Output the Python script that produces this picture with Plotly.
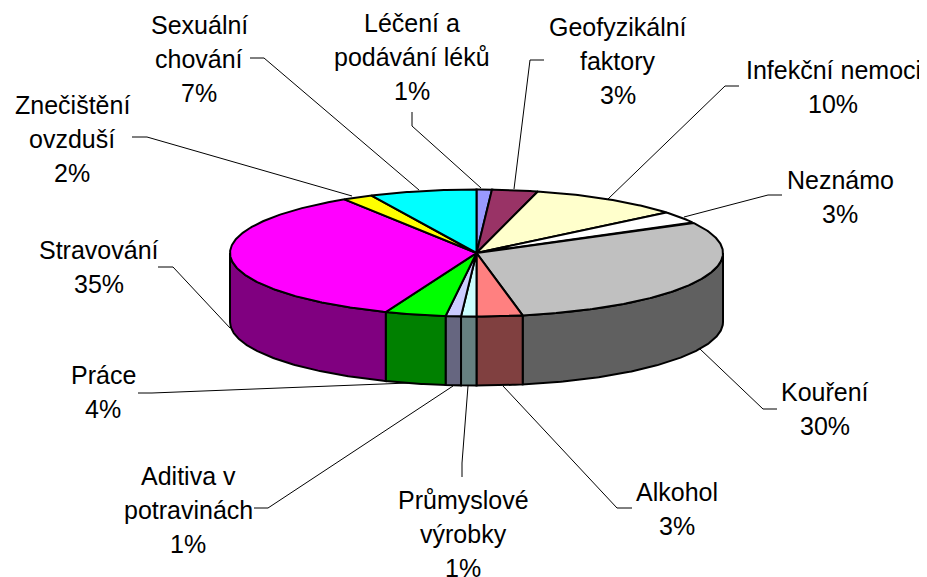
import math
import plotly.graph_objects as go

# --- data ---
names = [["Léčení a", "podávání léků"], ["Geofyzikální", "faktory"], ["Infekční nemoci"],
         ["Neznámo"], ["Kouření"], ["Alkohol"], ["Průmyslové", "výrobky"],
         ["Aditiva v", "potravinách"], ["Práce"], ["Stravování"],
         ["Znečištění", "ovzduší"], ["Sexuální", "chování"]]
values = [1, 3, 10, 3, 30, 3, 1, 1, 4, 35, 2, 7]
top_colors = ["#9999FF", "#993366", "#FFFFCC", "#FFFFFF", "#C0C0C0", "#FF8080",
              "#CCFFFF", "#CCCCFF", "#00FF00", "#FF00FF", "#FFFF00", "#00FFFF"]
side_colors = ["#4D4D80", "#4D1A33", "#808066", "#808080", "#606060", "#804040",
               "#668080", "#666680", "#008000", "#800080", "#808000", "#008080"]

# --- layout of the drawing (pixels of the 927x577 page) ---
W, H = 927, 577
PAGE_MARGIN = 8
CX, CY, RX, RY, DEPTH = 476.5, 253, 246.5, 63.5, 69
label_x = [412, 618, 833, 840, 825, 677, 463, 188, 103, 99, 72, 199]
label_y = [23, 27, 70, 180, 392, 492, 500, 476, 375, 250, 105, 25]
LINE_STEP = 34
FONT_SIZE = 25
leaders = [
    [(412, 112), (412, 126), (481, 188)],
    [(544, 60), (530, 60), (514, 189)],
    [(739, 86), (725, 86), (608, 199)],
    [(782, 195), (768, 195), (684, 217)],
    [(777, 409), (763, 409), (700, 349)],
    [(632, 508), (617, 508), (503, 386)],
    [(462, 477), (462, 463), (468, 386)],
    [(254, 508), (268, 508), (453, 386)],
    [(138, 393), (152, 393), (408, 383)],
    [(158, 267), (173, 267), (230, 328)],
    [(132, 137), (147, 137), (352, 196)],
    [(250, 58), (264, 58), (419, 190)],
]


def rim(t, dy=0.0):
    return CX + RX * math.sin(t), CY - RY * math.cos(t) + dy


def arc(a, b, dy=0.0):
    n = max(2, int(abs(b - a) / 0.01))
    return [rim(a + (b - a) * i / n, dy) for i in range(n + 1)]


fig = go.Figure()
total = sum(values)
bounds = [0.0]
for v in values:
    bounds.append(bounds[-1] + v / total * 2 * math.pi)

LINE = dict(color="#000000", width=2)


def poly(pts, color, line=LINE):
    fig.add_trace(go.Scatter(x=[p[0] for p in pts], y=[p[1] for p in pts], mode="lines",
                             fill="toself", fillcolor=color, line=line,
                             hoverinfo="skip", showlegend=False))


# side walls: only the part of the rim that faces the viewer
for i in range(len(values)):
    a = max(bounds[i], math.pi / 2)
    b = min(bounds[i + 1], 3 * math.pi / 2)
    if b > a:
        poly(arc(a, b) + arc(b, a, DEPTH) + [rim(a)], side_colors[i])

# top face
for i in range(len(values)):
    poly([(CX, CY)] + arc(bounds[i], bounds[i + 1]) + [(CX, CY)], top_colors[i])

# leader lines
for pts in leaders:
    fig.add_trace(go.Scatter(x=[p[0] for p in pts], y=[p[1] for p in pts], mode="lines",
                             line=dict(color="#000000", width=1),
                             hoverinfo="skip", showlegend=False))

# labels, one annotation per line because of the wide line spacing
annotations = []
for i, lines in enumerate(names):
    for j, text in enumerate(lines + [f"{values[i]}%"]):
        annotations.append(dict(x=label_x[i], y=label_y[i] + j * LINE_STEP, text=text,
                                xref="x", yref="y", showarrow=False,
                                xanchor="center", yanchor="middle",
                                font=dict(family="Liberation Sans", size=FONT_SIZE, color="#000000")))

# the page has a body margin, so the figure starts PAGE_MARGIN in from the corner
fig.update_layout(
    width=W - PAGE_MARGIN, height=H - PAGE_MARGIN, autosize=False,
    margin=dict(l=0, r=0, t=0, b=0),
    paper_bgcolor="#FFFFFF", plot_bgcolor="#FFFFFF", showlegend=False,
    xaxis=dict(range=[PAGE_MARGIN, W], visible=False, fixedrange=True),
    yaxis=dict(range=[H, PAGE_MARGIN], visible=False, fixedrange=True),
    annotations=annotations,
)
fig.write_html("out.html", config=dict(displayModeBar=False))
